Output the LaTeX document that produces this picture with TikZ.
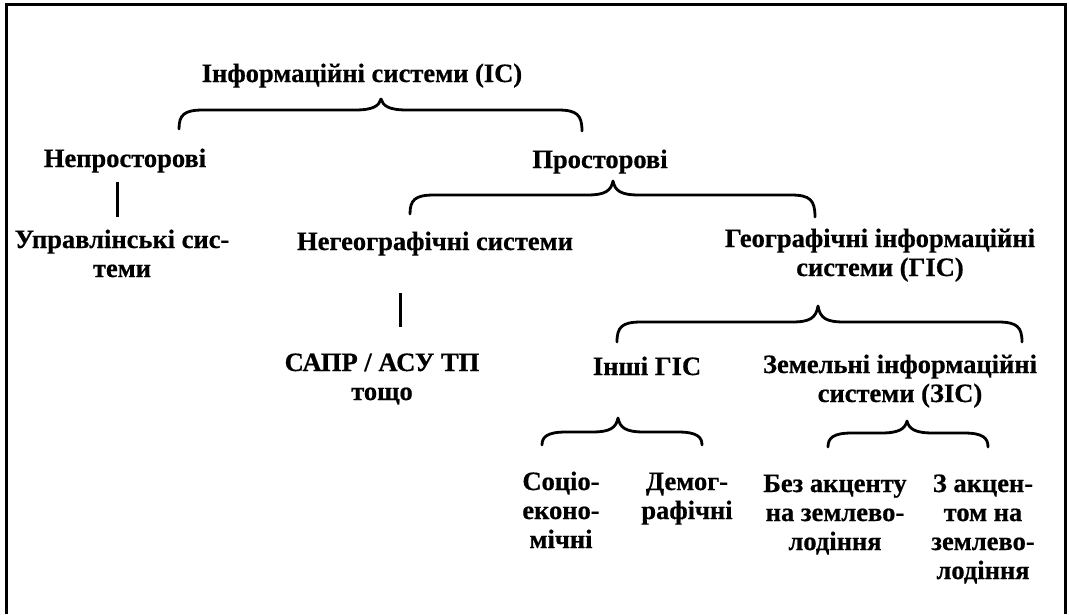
\documentclass[tikz,border=0pt]{standalone}
\usepackage{fontspec}
\setmainfont{Liberation Serif}[BoldFeatures={FakeBold=0.6}]
\usetikzlibrary{calc}
\tikzset{
  lbl/.style={anchor=base, inner sep=0pt, font=\fontsize{26.5}{29}\selectfont\bfseries},
  bracestyle/.style={line width=2.8pt, line cap=round, line join=round},
  vline/.style={line width=3pt},
  frameline/.style={line width=3pt}
}
\newcommand\ml[1]{\begin{tabular}[t]{@{}c@{}}#1\end{tabular}}
\newcommand\cbrace[4]{%
  \draw[bracestyle] let \p1=(#1), \p2=(#2), \p3=(#3) in
    (\x1,\y1) .. controls (\x1,\y2-#4pt-5pt) and (\x1+5pt,\y2-#4pt) .. (\x1+24pt,\y2-#4pt)
    -- (\x2-26pt,\y2-#4pt) .. controls (\x2-8pt,\y2-#4pt) and (\x2-2pt,\y2-#4pt+4pt) .. (\x2,\y2)
    .. controls (\x2+2pt,\y2-#4pt+4pt) and (\x2+8pt,\y2-#4pt) .. (\x2+26pt,\y2-#4pt)
    -- (\x3-24pt,\y2-#4pt) .. controls (\x3-5pt,\y2-#4pt) and (\x3,\y2-#4pt-5pt) .. (\x3,\y3);
}
\begin{document}
\begin{tikzpicture}[x=1pt,y=-1pt]
\useasboundingbox (0,0) rectangle (1069,614);
\fill[white] (0,0) rectangle (1069,614);
\draw[frameline] (6,614) -- (6,4) -- (1065,4) -- (1065,614);

% nodes
\node[lbl] (is)    at (362,82)  {Інформаційні системи (ІС)};
\node[lbl] (nps)   at (125,167) {Непросторові};
\node[lbl] (ps)    at (600,168) {Просторові};
\node[lbl] (upr)   at (122,248) {\ml{Управлінські сис-\\теми}};
\node[lbl] (ngs)   at (435,250) {Негеографічні системи};
\node[lbl] (gis)   at (880,247) {\ml{Географічні інформаційні\\системи (ГІС)}};
\node[lbl] (sapr)  at (382,371) {\ml{САПР / АСУ ТП\\тощо}};
\node[lbl] (ingis) at (647,375) {Інші ГІС};
\node[lbl] (zis)   at (900,373) {\ml{Земельні інформаційні\\системи (ЗІС)}};
\node[lbl] (soc)   at (561,490) {\ml{Соціо-\\еконо-\\мічні}};
\node[lbl] (dem)   at (687,490) {\ml{Демог-\\рафічні}};
\node[lbl] (bez)   at (835,492) {\ml{Без акценту\\на землево-\\лодіння}};
\node[lbl] (zak)   at (983,492) {\ml{З акцен-\\том на\\землево-\\лодіння}};

% brace points
\coordinate (b1l) at (179,129); \coordinate (b1t) at (381,99); \coordinate (b1r) at (582,131);
\coordinate (b2l) at (410,214); \coordinate (b2t) at (613,181); \coordinate (b2r) at (815,217);
\coordinate (b3l) at (617,342); \coordinate (b3t) at (818,306); \coordinate (b3r) at (1022,342);
\coordinate (b4l) at (542,445); \coordinate (b4t) at (618,418); \coordinate (b4r) at (702,445);
\coordinate (b5l) at (828,447); \coordinate (b5t) at (907,421); \coordinate (b5r) at (988,447);

\cbrace{b1l}{b1t}{b1r}{11}
\cbrace{b2l}{b2t}{b2r}{14}
\cbrace{b3l}{b3t}{b3r}{16}
\cbrace{b4l}{b4t}{b4r}{14}
\cbrace{b5l}{b5t}{b5r}{12}

% vertical connectors
\coordinate (v1t) at (117,182); \coordinate (v1b) at (117,217);
\coordinate (v2t) at (400,293); \coordinate (v2b) at (400,327);
\draw[vline] (v1t) -- (v1b);
\draw[vline] (v2t) -- (v2b);
\end{tikzpicture}
\end{document}
